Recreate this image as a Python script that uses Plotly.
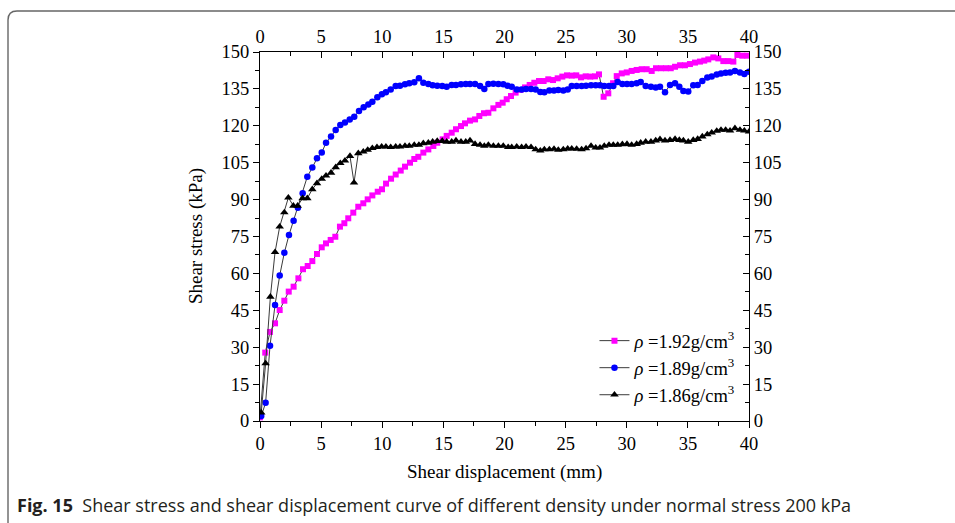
import plotly.graph_objects as go

# ---------------- data ----------------
disp_192 = [0.0, 0.43, 0.82, 1.23, 1.61, 1.99, 2.35, 2.75, 3.14, 3.52,
            3.9, 4.28, 4.66, 5.05, 5.4, 5.78, 6.16, 6.54, 6.9, 7.22,
            7.63, 8.04, 8.45, 8.81, 9.19, 9.63, 9.98, 10.31, 10.72, 11.1,
            11.51, 11.86, 12.27, 12.62, 12.95, 13.36, 13.77, 14.18, 14.5, 14.94,
            15.27, 15.68, 16.03, 16.44, 16.77, 17.18, 17.59, 17.94, 18.32, 18.68,
            19.09, 19.5, 19.85, 20.18, 20.53, 20.91, 21.3, 21.68, 22.06, 22.44,
            22.82, 23.2, 23.58, 23.97, 24.35, 24.73, 25.11, 25.5, 25.87, 26.26,
            26.64, 27.02, 27.4, 27.73, 28.11, 28.49, 28.88, 29.18, 29.59, 30.0,
            30.4, 30.81, 31.22, 31.63, 32.04, 32.39, 32.8, 33.21, 33.6, 33.95,
            34.36, 34.76, 35.17, 35.58, 35.99, 36.34, 36.67, 37.08, 37.49, 37.9,
            38.31, 38.72, 39.05, 39.45, 39.86]
stress_192 = [1.5, 27.8, 36.2, 39.7, 45.1, 48.9, 52.6, 54.6, 58.0, 61.7,
              63.0, 65.0, 67.9, 70.6, 72.2, 73.6, 74.9, 79.0, 80.4, 82.4,
              84.7, 87.1, 88.5, 90.1, 91.7, 93.2, 94.2, 96.5, 98.5, 100.2,
              101.8, 103.4, 105.0, 106.5, 107.4, 109.1, 110.4, 111.8, 113.1, 114.5,
              115.9, 117.2, 118.6, 119.9, 121.0, 122.1, 122.6, 124.0, 125.1, 125.3,
              127.1, 128.5, 129.4, 130.8, 132.1, 133.5, 134.6, 135.6, 136.6, 137.5,
              138.2, 138.2, 138.9, 138.6, 139.3, 140.0, 140.5, 140.4, 140.5, 139.7,
              140.1, 140.0, 140.1, 140.9, 131.8, 133.2, 137.3, 140.2, 141.3, 141.7,
              142.3, 142.7, 143.0, 143.0, 142.3, 143.4, 143.4, 143.4, 143.4, 144.0,
              144.6, 144.6, 145.1, 145.7, 146.1, 146.5, 147.0, 147.8, 147.4, 146.3,
              146.3, 146.1, 148.8, 148.5, 148.5]

disp_189 = [0.1, 0.46, 0.82, 1.23, 1.61, 1.99, 2.37, 2.75, 3.1, 3.49,
            3.87, 4.28, 4.66, 5.05, 5.4, 5.81, 6.19, 6.57, 6.95, 7.34,
            7.71, 8.1, 8.48, 8.86, 9.19, 9.6, 9.97, 10.3, 10.69, 11.1,
            11.45, 11.86, 12.21, 12.62, 13.0, 13.36, 13.77, 14.12, 14.5, 14.91,
            15.27, 15.68, 16.03, 16.44, 16.83, 17.18, 17.59, 18.0, 18.35, 18.68,
            19.09, 19.5, 19.9, 20.25, 20.59, 21.0, 21.4, 21.76, 22.17, 22.55,
            22.93, 23.26, 23.67, 24.05, 24.4, 24.81, 25.17, 25.5, 25.9, 26.31,
            26.67, 27.08, 27.46, 27.81, 28.16, 28.55, 28.9, 29.26, 29.64, 30.02,
            30.4, 30.81, 31.14, 31.55, 31.98, 32.37, 32.72, 33.13, 33.54, 33.95,
            34.3, 34.63, 35.03, 35.44, 35.8, 36.18, 36.59, 36.95, 37.36, 37.71,
            38.09, 38.45, 38.85, 39.26, 39.62, 40.0]
stress_189 = [2.0, 7.4, 30.6, 47.2, 59.1, 68.4, 75.6, 81.4, 86.7, 92.6,
              99.3, 103.0, 106.8, 109.1, 113.1, 115.6, 118.3, 120.3, 121.3, 122.6,
              123.7, 126.0, 127.5, 128.7, 129.8, 131.6, 132.8, 133.6, 134.8, 136.2,
              136.3, 136.9, 137.3, 137.7, 139.3, 137.5, 137.0, 136.5, 136.3, 136.2,
              135.9, 136.6, 136.6, 136.9, 137.0, 137.0, 137.0, 136.2, 135.0, 137.0,
              137.1, 137.0, 136.9, 136.3, 135.9, 134.8, 134.8, 135.0, 135.0, 134.8,
              133.7, 133.6, 134.3, 134.3, 134.6, 134.3, 134.8, 136.2, 136.2, 136.2,
              136.3, 136.5, 136.5, 136.5, 136.2, 136.2, 136.2, 137.8, 137.0, 137.0,
              137.0, 137.3, 137.8, 136.2, 135.9, 135.6, 135.9, 133.6, 136.6, 137.3,
              135.9, 134.1, 133.9, 136.5, 136.6, 138.2, 139.6, 140.0, 140.9, 141.3,
              141.6, 141.7, 142.3, 141.7, 141.1, 142.0]

disp_186 = [0.1, 0.46, 0.85, 1.23, 1.61, 1.99, 2.32, 2.73, 3.08, 3.49,
            3.87, 4.28, 4.66, 5.05, 5.4, 5.81, 6.19, 6.57, 6.95, 7.36,
            7.69, 8.04, 8.45, 8.81, 9.19, 9.57, 9.95,
            10.3, 10.69, 11.1, 11.45, 11.86, 12.21, 12.62, 13.0, 13.36, 13.77,
            14.12, 14.5, 14.91, 15.27, 15.68, 16.03, 16.44, 16.83, 17.18, 17.59,
            18.0, 18.35, 18.68, 19.09, 19.5, 19.9, 20.3,
            20.59, 21.0, 21.4, 21.76, 22.17, 22.55, 22.93, 23.26, 23.67, 24.05,
            24.4, 24.81, 25.17, 25.5, 25.9, 26.31, 26.67, 27.08, 27.46, 27.81,
            28.16, 28.55, 28.9, 29.26, 29.64, 30.02,
            30.4, 30.81, 31.14, 31.55, 31.98, 32.37, 32.72, 33.13, 33.54, 33.95,
            34.3, 34.63, 35.03, 35.44, 35.8, 36.18, 36.59, 36.95, 37.36, 37.71,
            38.09, 38.45, 38.85, 39.26, 39.62, 40.0]
stress_186 = [3.4, 23.4, 50.5, 68.6, 79.0, 84.8, 90.8, 87.5, 87.5, 90.5,
              90.5, 94.2, 96.6, 98.4, 99.7, 100.9, 103.1, 104.8, 105.8, 107.7,
              96.9, 108.8, 109.5, 110.2, 110.9, 111.3, 111.5,
              111.5, 111.3, 111.5, 111.5, 111.8, 111.8, 112.2, 112.2, 112.9, 113.1,
              113.5, 113.8, 113.8, 113.5, 113.5, 114.0, 113.5, 113.5, 114.0, 112.6,
              112.2, 111.8, 112.2, 111.8, 111.8, 111.8, 111.3,
              111.3, 111.5, 111.3, 111.5, 111.3, 110.4, 109.9, 110.4, 110.4, 110.6,
              110.2, 110.4, 110.7, 110.7, 110.6, 110.4, 110.8, 111.8, 111.1, 111.1,
              111.8, 112.2, 112.2, 112.2, 112.5, 112.6,
              112.2, 112.6, 113.1, 113.5, 113.5, 114.0, 114.5, 114.0, 114.2, 114.6,
              114.2, 114.0, 113.5, 114.2, 114.6, 115.6, 116.5, 117.2, 117.9, 118.3,
              118.3, 118.0, 119.0, 118.3, 118.0, 117.6]

x_ticks = [0, 5, 10, 15, 20, 25, 30, 35, 40]
y_ticks = [0, 15, 30, 45, 60, 75, 90, 105, 120, 135, 150]

series_names = ["<i>ρ</i> =1.92g/cm<sup>3</sup>",
                "<i>ρ</i> =1.89g/cm<sup>3</sup>",
                "<i>ρ</i> =1.86g/cm<sup>3</sup>"]

x_title = "Shear displacement (mm)"
y_title = "Shear stress (kPa)"
caption_bold = "Fig. 15"
caption_text = "Shear stress and shear displacement curve of different density under normal stress 200 kPa"

# ---------------- figure ----------------
SERIF = "Liberation Serif, Times New Roman, serif"
LINE_C = "#3a3a3a"

fig = go.Figure()
fig.add_trace(go.Scatter(x=disp_192, y=stress_192, mode="lines+markers", name=series_names[0],
                         line=dict(color=LINE_C, width=1),
                         marker=dict(symbol="square", size=6, color="#ff00ff")))
fig.add_trace(go.Scatter(x=disp_189, y=stress_189, mode="lines+markers", name=series_names[1],
                         line=dict(color=LINE_C, width=1),
                         marker=dict(symbol="circle", size=6.5, color="#0000ff")))
fig.add_trace(go.Scatter(x=disp_186, y=stress_186, mode="lines+markers", name=series_names[2],
                         line=dict(color=LINE_C, width=1),
                         marker=dict(symbol="triangle-up", size=7.5, color="#000000")))
# empty trace to activate the mirrored top/right axes
fig.add_trace(go.Scatter(x=[], y=[], xaxis="x2", yaxis="y2", showlegend=False, hoverinfo="skip"))

tickfont = dict(family=SERIF, size=18.5, color="#000")
common_x = dict(range=[0, 40], tickvals=x_ticks, showgrid=False, zeroline=False,
                showline=True, linecolor="#000", linewidth=1.3, tickcolor="#000",
                tickwidth=1.2, ticklen=6, tickfont=tickfont)
common_y = dict(range=[0, 150], tickvals=y_ticks, showgrid=False, zeroline=False,
                showline=True, linecolor="#000", linewidth=1.3, tickcolor="#000",
                tickwidth=1.2, ticklen=6, tickfont=tickfont)

fig.update_layout(
    width=955, height=523,
    margin=dict(l=260, r=206, t=52, b=102),
    paper_bgcolor="white", plot_bgcolor="white",
    showlegend=True,
    xaxis=dict(**common_x, ticks="outside",
               minor=dict(dtick=2.5, ticks="outside", ticklen=3.5, tickcolor="#000", tickwidth=1.2)),
    yaxis=dict(**common_y, ticks="outside",
               minor=dict(dtick=7.5, ticks="outside", ticklen=3.5, tickcolor="#000", tickwidth=1.2)),
    xaxis2=dict(**common_x, overlaying="x", side="top", anchor="y", ticks="inside",
                minor=dict(dtick=2.5, ticks="inside", ticklen=3.5, tickcolor="#000", tickwidth=1.2)),
    yaxis2=dict(**common_y, overlaying="y", side="right", anchor="x", ticks="inside",
                minor=dict(dtick=7.5, ticks="inside", ticklen=3.5, tickcolor="#000", tickwidth=1.2)),
    legend=dict(x=0.684, y=0.268, xanchor="left", yanchor="top",
                bgcolor="rgba(0,0,0,0)", borderwidth=0,
                font=dict(family=SERIF, size=18.5, color="#000"),
                tracegroupgap=0, itemwidth=30),
)

# axis titles
fig.add_annotation(text=x_title, xref="paper", yref="paper", x=0.501, y=-0.137,
                   xanchor="center", yanchor="middle", showarrow=False,
                   font=dict(family=SERIF, size=19, color="#000"))
fig.add_annotation(text=y_title, xref="paper", yref="paper", x=-0.131, y=0.501,
                   xanchor="center", yanchor="middle", showarrow=False, textangle=-90,
                   font=dict(family=SERIF, size=19, color="#000"))

# caption
fig.add_annotation(text="<b>" + caption_bold + "</b>  " + caption_text,
                   xref="paper", yref="paper", x=-0.501, y=-0.228,
                   xanchor="left", yanchor="middle", showarrow=False,
                   font=dict(family="Open Sans, Noto Sans, sans-serif", size=18, color="#231f20"))

# rounded frame around figure (paper coords relative to plot area)
x0 = (8 - 260) / 489
x1 = (980 - 260) / 489
y1 = (421 - 11) / 369
y0 = (421 - 560) / 369
rx = 9 / 489
ry = 9 / 369
path = (f"M {x0},{y0} L {x0},{y1 - ry} Q {x0},{y1} {x0 + rx},{y1} "
        f"L {x1},{y1}")
fig.add_shape(type="path", path=path, xref="paper", yref="paper",
              line=dict(color="#666666", width=1.4), layer="below")

fig.write_html("out.html")
